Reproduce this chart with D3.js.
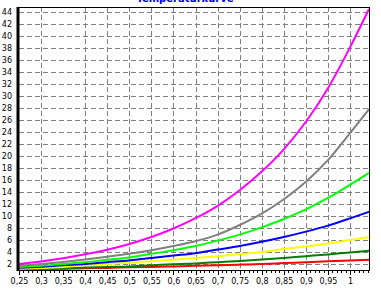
<!DOCTYPE html>
<html>
<head>
<meta charset="utf-8">
<script src="https://cdn.jsdelivr.net/npm/d3@7"></script>
<style>
  body { margin: 0; background: #fff; }
  text { font-family: "DejaVu Sans", sans-serif; }
</style>
</head>
<body>
<svg id="chart" width="381" height="290"></svg>
<script>
// data
const xs = [0.25, 0.3, 0.35, 0.4, 0.45, 0.5, 0.55, 0.6, 0.65, 0.7, 0.75, 0.8, 0.85, 0.9, 0.95, 1.0, 1.043];
const magenta = [2.0, 2.43, 2.96, 3.61, 4.39, 5.34, 6.5, 7.91, 9.63, 11.7, 14.3, 17.4, 21.1, 25.7, 31.3, 38.1, 44.5];
const gray = [1.7, 2.0, 2.35, 2.75, 3.2, 3.7, 4.3, 5.0, 5.8, 6.9, 8.5, 10.4, 12.8, 15.7, 19.3, 23.8, 27.8];
const lime = [1.5, 1.7, 2.0, 2.3, 2.7, 3.1, 3.7, 4.3, 5.0, 5.9, 6.9, 8.1, 9.5, 11.1, 13.0, 15.2, 17.2];
const blue = [1.37, 1.55, 1.8, 2.0, 2.3, 2.6, 3.0, 3.4, 3.8, 4.4, 5.0, 5.7, 6.5, 7.4, 8.4, 9.6, 10.7];
const yellow = [1.2, 1.35, 1.5, 1.8, 2.0, 2.2, 2.45, 2.7, 3.0, 3.3, 3.65, 4.0, 4.5, 4.9, 5.4, 6.0, 6.5];
const darkGreen = [1.05, 1.15, 1.25, 1.4, 1.5, 1.6, 1.8, 1.95, 2.1, 2.3, 2.5, 2.75, 3.0, 3.3, 3.6, 3.93, 4.2];
const red = [1.1, 1.15, 1.2, 1.3, 1.35, 1.45, 1.5, 1.6, 1.7, 1.8, 1.9, 2.0, 2.15, 2.3, 2.45, 2.6, 2.7];

const xTickValues = [0.25, 0.3, 0.35, 0.4, 0.45, 0.5, 0.55, 0.6, 0.65, 0.7, 0.75, 0.8, 0.85, 0.9, 0.95, 1.0];
const xGridValues = [0.3, 0.4, 0.45, 0.5, 0.55, 0.6, 0.65, 0.7, 0.75, 0.8, 0.85, 0.9, 0.95, 1.0];
const yTickValues = d3.range(2, 45, 2);
const title = 'Temperaturkurve';

const series = [
  {values: red, color: '#ff0000'},
  {values: darkGreen, color: '#008000'},
  {values: yellow, color: '#ffff00'},
  {values: blue, color: '#0000ff'},
  {values: lime, color: '#00ff00'},
  {values: gray, color: '#808080'},
  {values: magenta, color: '#ff00ff'}
];

const mLeft = 19, mRight = 369, mTop = 7, mBottom = 270;

const svg = d3.select('#chart');

const x = d3.scaleLinear().domain([0.25, 1.043]).range([mLeft, mRight]);
const y = d3.scaleLinear().domain([1, 44.83]).range([mBottom, mTop]);

// title, mostly cut off at the top
svg.append('text')
  .attr('x', 185)
  .attr('y', 2)
  .attr('text-anchor', 'middle')
  .style('font-size', '10px')
  .style('font-weight', 'bold')
  .style('fill', '#0000ff')
  .text(title);

// grid
const grid = svg.append('g')
  .attr('stroke', '#808080')
  .attr('stroke-width', 1)
  .attr('stroke-dasharray', '5,3')
  .attr('shape-rendering', 'crispEdges');

grid.selectAll('line.h')
  .data(yTickValues)
  .enter().append('line')
  .attr('class', 'h')
  .attr('x1', mLeft)
  .attr('x2', mRight)
  .attr('y1', d => Math.round(y(d)) + 0.5)
  .attr('y2', d => Math.round(y(d)) + 0.5);

grid.selectAll('line.v')
  .data(xGridValues)
  .enter().append('line')
  .attr('class', 'v')
  .attr('x1', d => Math.round(x(d)) + 0.5)
  .attr('x2', d => Math.round(x(d)) + 0.5)
  .attr('y1', mTop)
  .attr('y2', mBottom);

// curves
const line = d3.line()
  .x((d, i) => x(xs[i]))
  .y(d => y(d))
  .curve(d3.curveMonotoneX);

svg.append('g')
  .selectAll('path')
  .data(series)
  .enter().append('path')
  .attr('fill', 'none')
  .attr('stroke', d => d.color)
  .attr('stroke-width', 2)
  .attr('d', d => line(d.values));

// frame
svg.append('path')
  .attr('fill', 'none')
  .attr('stroke', '#000')
  .attr('stroke-width', 1)
  .attr('shape-rendering', 'crispEdges')
  .attr('d', `M${mLeft},${mTop + 0.5}H${mRight + 0.5}V${mBottom + 0.5}H${mLeft}`);

// x axis: minor ticks every 0.01
const xAxis = d3.axisBottom(x)
  .tickValues(d3.range(25, 105).map(d => d / 100))
  .tickSize(3)
  .tickFormat('');
svg.append('g')
  .attr('transform', `translate(0,${mBottom})`)
  .call(xAxis)
  .call(g => g.select('.domain').remove())
  .call(g => g.selectAll('line').attr('shape-rendering', 'crispEdges'));

const xMajor = d3.axisBottom(x)
  .tickValues(xTickValues)
  .tickSize(5)
  .tickFormat(d => d3.format('')(d).replace('.', ','));
svg.append('g')
  .attr('transform', `translate(0,${mBottom})`)
  .call(xMajor)
  .call(g => g.select('.domain').remove())
  .call(g => g.selectAll('line').attr('shape-rendering', 'crispEdges'))
  .call(g => g.selectAll('text')
    .attr('y', 8)
    .style('font-family', '"DejaVu Sans", sans-serif')
    .style('font-size', '8px')
    .style('fill', '#000'));

// y axis
const yAxis = d3.axisLeft(y)
  .tickValues(yTickValues)
  .tickSize(2)
  .tickPadding(5)
  .tickFormat(d3.format('d'));
svg.append('g')
  .attr('transform', `translate(${mLeft},0)`)
  .call(yAxis)
  .call(g => g.select('.domain').remove())
  .call(g => g.selectAll('text')
    .style('font-family', '"DejaVu Sans", sans-serif')
    .style('font-size', '8px')
    .style('fill', '#000'));

svg.append('line')
  .attr('x1', mLeft - 1)
  .attr('x2', mLeft - 1)
  .attr('y1', mTop)
  .attr('y2', mBottom + 1)
  .attr('stroke', '#000')
  .attr('stroke-width', 3);
</script>
</body>
</html>
